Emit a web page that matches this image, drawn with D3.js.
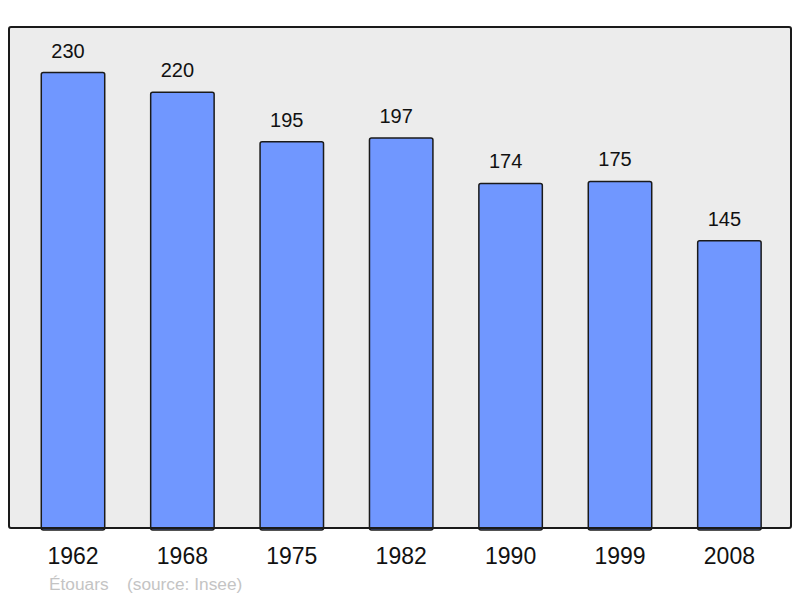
<!DOCTYPE html>
<html>
<head>
<meta charset="utf-8">
<script src="https://cdn.jsdelivr.net/npm/d3@7"></script>
<style>
  body { margin: 0; background: #fff; }
  text { font-family: "Liberation Sans", Arial, sans-serif; }
</style>
</head>
<body>
<svg width="800" height="598"></svg>
<script>
// population by census year
var years = ["1962", "1968", "1975", "1982", "1990", "1999", "2008"];
var population = [230, 220, 195, 197, 174, 175, 145];
var town = "Étouars";
var source = "(source: Insee)";

var svg = d3.select("svg");
var panel = { left: 9, top: 27, right: 791, bottom: 528 };

var xScale = d3.scaleBand()
  .domain(years)
  .range([18.3, 784.1])
  .paddingInner(0.42)
  .paddingOuter(0.21);

var yScale = d3.scaleLinear()
  .domain([0, 253])
  .range([panel.bottom, panel.top]);

// grey background box
svg.append("rect")
  .attr("x", panel.left)
  .attr("y", panel.top)
  .attr("width", panel.right - panel.left)
  .attr("height", panel.bottom - panel.top)
  .attr("rx", 2)
  .attr("fill", "#ececec")
  .attr("stroke", "none");

var data = years.map(function(y, i) { return { year: y, value: population[i] }; });

svg.selectAll("rect.bar")
  .data(data)
  .enter()
  .append("rect")
    .attr("class", "bar")
    .attr("x", function(d) { return xScale(d.year); })
    .attr("width", xScale.bandwidth())
    .attr("y", function(d) { return yScale(d.value); })
    .attr("height", function(d) { return panel.bottom - yScale(d.value) + 2; })
    .attr("rx", 2)
    .attr("fill", "#7097ff")
    .attr("stroke", "#1a1a1a")
    .attr("stroke-width", 1.5);

// frame on top so bars sit inside it
svg.append("rect")
  .attr("x", panel.left)
  .attr("y", panel.top)
  .attr("width", panel.right - panel.left)
  .attr("height", panel.bottom - panel.top)
  .attr("rx", 2)
  .attr("fill", "none")
  .attr("stroke", "#1a1a1a")
  .attr("stroke-width", 2);

// value labels (sit a little left of the bar centre, as in the original)
svg.selectAll("text.val")
  .data(data)
  .enter()
  .append("text")
    .attr("class", "val")
    .attr("x", function(d) { return xScale(d.year) + xScale.bandwidth() / 2 - 5; })
    .attr("y", function(d) { return yScale(d.value) - 15; })
    .attr("text-anchor", "middle")
    .attr("font-size", 20)
    .attr("fill", "#111")
    .text(function(d) { return d.value; });

// year axis labels
var xAxis = d3.axisBottom(xScale).tickSize(0).tickPadding(0);
var gx = svg.append("g")
  .attr("transform", "translate(0," + panel.bottom + ")")
  .call(xAxis);
gx.select(".domain").remove();
gx.selectAll("text")
  .attr("dy", null)
  .attr("y", 36)
  .attr("font-size", 23)
  .attr("font-family", "Liberation Sans, Arial, sans-serif")
  .attr("fill", "#111");

// footer
svg.append("text")
  .attr("x", 49)
  .attr("y", 590)
  .attr("font-size", 17.3)
  .attr("fill", "#c4c4c4")
  .text(town);
svg.append("text")
  .attr("x", 127)
  .attr("y", 590)
  .attr("font-size", 17.3)
  .attr("fill", "#c4c4c4")
  .text(source);
</script>
</body>
</html>
